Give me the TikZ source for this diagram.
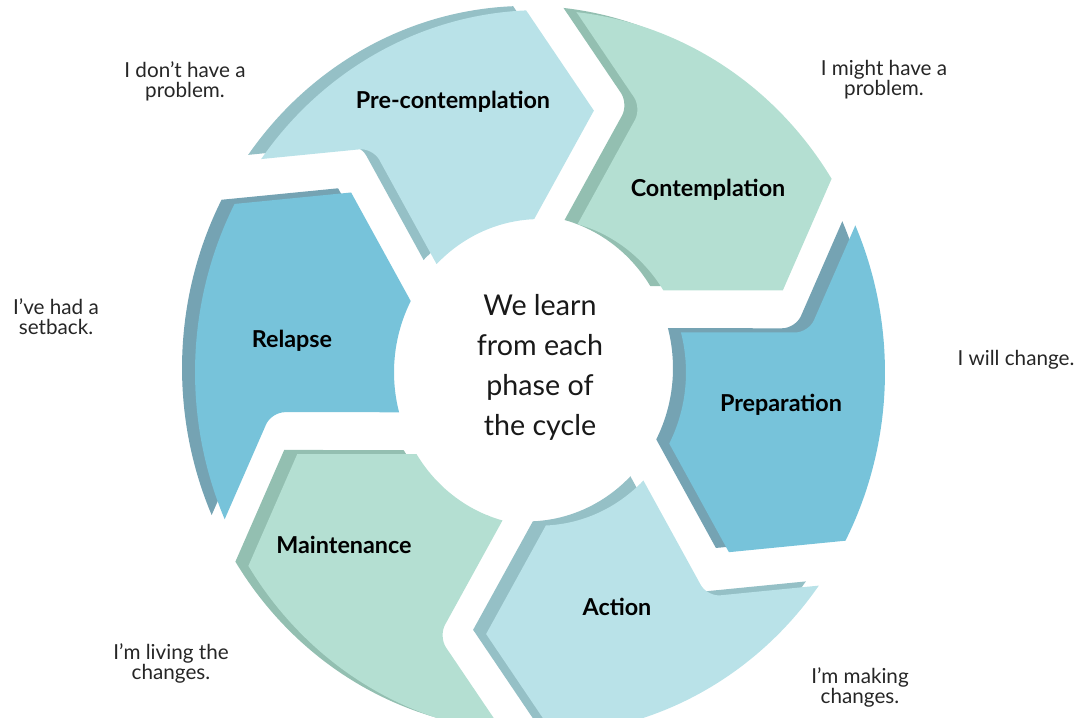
\documentclass[tikz,border=0pt]{standalone}
\usepackage{fontspec}
\setmainfont{Lato}
\usetikzlibrary{calc}
\definecolor{paleface}{HTML}{B9E2E8}
\definecolor{paleside}{HTML}{95C0C6}
\definecolor{mintface}{HTML}{B4DFD2}
\definecolor{mintside}{HTML}{93BFB1}
\definecolor{blueface}{HTML}{77C3DA}
\definecolor{blueside}{HTML}{75A3B3}
\def\rout{345}\def\rin{146}\def\rmid{255}\def\gap{30pt}
% one arrow of the ring, tail at 151.5, head at 91.5
\newcommand\ringseg[1]{%
  \path (151.5:\rout) coordinate (a) (137:\rmid) coordinate (t) (151.5:\rin) coordinate (i);
  \path ($(a)!\gap!90:(t)$) coordinate (a1) ($(t)!\gap!-90:(a)$) coordinate (t1)
        ($(t)!\gap!90:(i)$) coordinate (t2) ($(i)!\gap!-90:(t)$) coordinate (i1);
  \coordinate (m) at (intersection of a1--t1 and t2--i1);
  \begin{scope}
    \clip (151.5:\rout) arc[start angle=151.5, end angle=91.5, radius=\rout] -- (77:\rmid)
      -- (91.5:\rin) arc[start angle=91.5, end angle=151.5, radius=\rin] -- (137:\rmid) -- cycle;
    \clip[rounded corners=10pt] ($(t1)!1.7!(a1)$) -- (m) -- ($(t2)!1.8!(i1)$) -- (0,0)
      -- (51.5:800) -- (121.5:800) -- (171.5:800) -- cycle;
    \fill[#1] (0,0) circle[radius=400];
  \end{scope}}
\begin{document}
\begin{tikzpicture}[x=0.75pt, y=0.75pt, line join=round]
  \tikzset{phase/.style={font=\bfseries\fontsize{17.5}{20}\selectfont},
    said/.style={font=\fontsize{15.5}{15}\selectfont, align=center, text=black!85},
    hubtext/.style={font=\fontsize{21.5}{30}\selectfont, align=center, text=black!90}}
  \useasboundingbox (-540,-352) rectangle (540,365);
  \begin{scope}[yshift=-5.5pt, yscale=1.05]
    \foreach \k/\c in {0/paleside,1/mintside,2/blueside,3/paleside,4/mintside,5/blueside}
      {\begin{scope}[shift={(-13,4)}, rotate=0.8-60*\k] \ringseg{\c} \end{scope}}
    \foreach \k/\c in {0/paleface,1/mintface,2/blueface,3/paleface,4/mintface,5/blueface}
      {\begin{scope}[rotate=0.8-60*\k] \ringseg{\c} \end{scope}}
  \end{scope}
  \node[phase] (precon) at (-87,263) {Pre-contemplation};
  \node[phase] (contem) at (168,175) {Contemplation};
  \node[phase] (prep) at (241,-40) {Preparation};
  \node[phase] (act) at (77,-242) {Action};
  \node[phase] (maint) at (-196,-180) {Maintenance};
  \node[phase] (relap) at (-248,24) {Relapse};
  \node[hubtext] (hub) at (0,-2) {We learn\\from each\\phase of\\the cycle};
  \node[said] (noprob) at (-355,284) {I don’t have a\\problem.};
  \node[said] (mightprob) at (344,285) {I might have a\\problem.};
  \node[said] (willchange) at (476,5) {I will change.};
  \node[said] (setback) at (-484,48) {I’ve had a\\setback.};
  \node[said] (living) at (-369,-298) {I’m living the\\changes.};
  \node[said] (making) at (320,-322) {I’m making\\changes.};
\end{tikzpicture}
\end{document}
